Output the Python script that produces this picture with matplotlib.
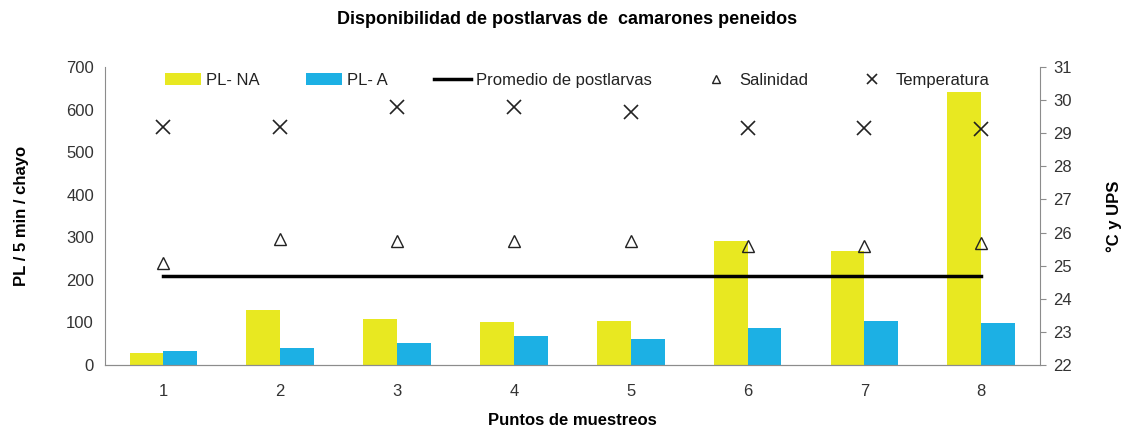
import numpy as np
import matplotlib.pyplot as plt

plt.rcParams['font.family'] = ['Liberation Sans', 'DejaVu Sans']

puntos = [1, 2, 3, 4, 5, 6, 7, 8]
pl_na = [28, 129, 108, 101, 103, 291, 268, 642]
pl_a = [33, 40, 52, 68, 61, 87, 103, 99]
promedio = [210, 210, 210, 210, 210, 210, 210, 210]
salinidad = [25.08, 25.8, 25.75, 25.75, 25.75, 25.6, 25.6, 25.68]
temperatura = [29.18, 29.18, 29.8, 29.8, 29.64, 29.16, 29.16, 29.12]

amarillo = '#e8e821'
azul = '#1cb0e4'
gris = '#8c8c8c'

fig = plt.figure(figsize=(11.35, 4.32), dpi=100)
ax = fig.add_axes([0.0925, 0.155, 0.8235, 0.69])
ax2 = ax.twinx()

x = np.array(puntos)
w = 0.29
b1 = ax.bar(x - w / 2, pl_na, w, color=amarillo, label='PL- NA', zorder=2)
b2 = ax.bar(x + w / 2, pl_a, w, color=azul, label='PL- A', zorder=2)
l1, = ax.plot(x, promedio, color='black', lw=2.5, label='Promedio de postlarvas', zorder=3)

s1, = ax2.plot(x, salinidad, ls='none', marker='^', mfc='none', mec='#222222',
               ms=9, mew=1, label='Salinidad')
t1, = ax2.plot(x, temperatura, ls='none', marker='x', color='#222222',
               ms=10, mew=1.2, label='Temperatura')

ax.set_xlim(0.5, 8.5)
ax.set_ylim(0, 700)
ax.set_yticks(range(0, 701, 100))
ax2.set_ylim(22, 31)
ax2.set_yticks(range(22, 32))
ax.set_xticks(puntos)

for a in (ax, ax2):
    for s in a.spines.values():
        s.set_color(gris)
    a.spines['top'].set_visible(False)
    a.tick_params(labelsize=12, colors='#333333', length=0)
ax.spines['right'].set_visible(False)
ax2.spines['left'].set_visible(False)
ax2.tick_params(axis='y', length=4, color=gris, pad=6)
ax.tick_params(axis='x', pad=14)
ax.tick_params(axis='y', pad=8)

ax.set_ylabel('PL / 5 min / chayo', fontsize=12, fontweight='bold')
ax.yaxis.set_label_coords(-0.081, 0.5)
ax2.set_ylabel('°C y UPS', fontsize=12, fontweight='bold')
ax2.yaxis.set_label_coords(1.071, 0.5)
ax.set_xlabel('Puntos de muestreos', fontsize=12, fontweight='bold', labelpad=10)
fig.suptitle('Disponibilidad de postlarvas de  camarones peneidos',
             fontsize=13, fontweight='bold', y=0.975)

ax2.legend([b1, b2, l1, s1, t1],
           ['PL- NA', 'PL- A', 'Promedio de postlarvas', 'Salinidad', 'Temperatura'],
           loc='upper center', bbox_to_anchor=(0.505, 1.03), ncol=5, frameon=False,
           fontsize=12, handlelength=2.2, handletextpad=0.3, columnspacing=2.75,
           markerscale=0.7, labelcolor='#222222')

plt.savefig('out.png', dpi=100)
